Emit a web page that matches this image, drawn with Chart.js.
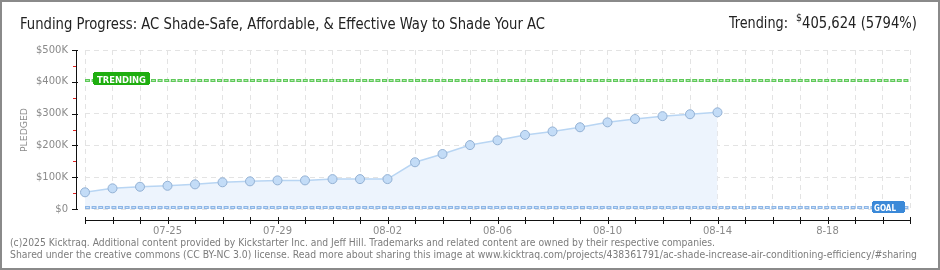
<!DOCTYPE html>
<html><head><meta charset="utf-8">
<script src="https://cdn.jsdelivr.net/npm/chart.js@4"></script>
<style>html,body{margin:0;padding:0;background:#fff}#wrap{width:940px;height:270px;position:relative}</style>
</head><body><div id="wrap"><canvas id="c" width="940" height="270"></canvas></div>
<script>
// ---- data ----
const categories = ['07-22','07-23','07-24','07-25','07-26','07-27','07-28','07-29','07-30','07-31',
  '08-01','08-02','08-03','08-04','08-05','08-06','08-07','08-08','08-09','08-10',
  '08-11','08-12','08-13','08-14','08-15','08-16','08-17','08-18','08-19','08-20','08-21'];
const pledged = [52500, 65000, 70000, 73000, 77500, 84000, 87000, 90000, 90000, 94000, 94000, 94000,
  147000, 173000, 201000, 216000, 233000, 244000, 257000, 272500, 283000, 292000, 298000, 304000];
const xTickAt   = ['07-25','07-29','08-02','08-06','08-10','08-14','08-18'];
const xTickText = ['07-25','07-29','08-02','08-06','08-10','08-14','8-18'];
const yTickValues = [0, 100000, 200000, 300000, 400000, 500000];
const yTickText = ['$0','$100K','$200K','$300K','$400K','$500K'];
const trendingValue = 405624;
const goalValue = 7000;
const titleText = 'Funding Progress: AC Shade-Safe, Affordable, & Effective Way to Shade Your AC';
const trendingLabel = 'Trending:';
const trendingAmount = '405,624 (5794%)';
const footer1 = '(c)2025 Kicktraq. Additional content provided by Kickstarter Inc. and Jeff Hill. Trademarks and related content are owned by their respective companies.';
const footer2 = 'Shared under the creative commons (CC BY-NC 3.0) license. Read more about sharing this image at www.kicktraq.com/projects/438361791/ac-shade-increase-air-conditioning-efficiency/#sharing';

function fitText(ctx, text, x, y, targetW, font, color, align) {
  ctx.save();
  ctx.font = font;
  ctx.fillStyle = color;
  ctx.textBaseline = 'alphabetic';
  ctx.textAlign = 'left';
  const w = ctx.measureText(text).width;
  const s = targetW / w;
  ctx.translate(align === 'center' ? x - targetW / 2 : x, y);
  ctx.scale(s, 1);
  ctx.fillText(text, 0, 0);
  ctx.restore();
}

function refLine(ctx, area, y, outer, inner) {
  ctx.save();
  ctx.beginPath();
  ctx.moveTo(area.left, y); ctx.lineTo(area.right, y);
  ctx.lineWidth = 3; ctx.strokeStyle = outer; ctx.setLineDash([5, 1.6]);
  ctx.stroke();
  ctx.beginPath();
  ctx.moveTo(area.left, y); ctx.lineTo(area.right, y);
  ctx.lineWidth = 1; ctx.strokeStyle = inner; ctx.setLineDash([2.6, 4]); ctx.lineDashOffset = -1.2;
  ctx.stroke();
  ctx.restore();
}

function box(ctx, x, y, w, h, color) {
  ctx.fillStyle = color;
  ctx.fillRect(x + 1, y, w - 2, h);
  ctx.fillRect(x, y + 1, w, h - 2);
}

const deco = {
  id: 'deco',
  afterDatasetsDraw(chart) {
    const ctx = chart.ctx, a = chart.chartArea, ys = chart.scales.y;
    const yt = Math.round(ys.getPixelForValue(trendingValue)) + 0.5;
    const yg = Math.round(ys.getPixelForValue(goalValue)) + 0.5;
    refLine(ctx, a, yt, '#5fc95a', '#b4eab0');
    refLine(ctx, a, yg, '#8db6e6', '#cde0f7');
    // labels
    box(ctx, 93, yt - 8.5, 57, 13, '#1fae10');
    fitText(ctx, 'TRENDING', 121.5, yt + 2, 49, 'bold 9px "DejaVu Sans"', '#ffffff', 'center');
    box(ctx, 872, yg - 6.5, 33, 12, '#3b89d8');
    fitText(ctx, 'GOAL', 885, yg + 3, 22, 'bold 9px "DejaVu Sans"', '#ffffff', 'center');
  },
  afterDraw(chart) {
    const ctx = chart.ctx, xs = chart.scales.x, ys = chart.scales.y;
    ctx.save();
    // y axis
    const yTop = ys.getPixelForValue(ys.max), yBot = ys.getPixelForValue(ys.min);
    ctx.strokeStyle = '#111'; ctx.lineWidth = 1;
    ctx.beginPath(); ctx.moveTo(76.5, yTop); ctx.lineTo(76.5, yBot + 1); ctx.stroke();
    ys.ticks.forEach((t, i) => {
      const p = Math.round(ys.getPixelForValue(t.value)) + 0.5;
      ctx.strokeStyle = '#111';
      ctx.beginPath(); ctx.moveTo(72, p); ctx.lineTo(78, p); ctx.stroke();
      if (i < ys.ticks.length - 1) {
        const m = Math.round(ys.getPixelForValue((t.value + ys.ticks[i + 1].value) / 2)) + 0.5;
        ctx.strokeStyle = '#e02020';
        ctx.beginPath(); ctx.moveTo(73, m); ctx.lineTo(76, m); ctx.stroke();
      }
    });
    // x axis
    const xl = xs.getPixelForValue(0), xr = xs.getPixelForValue(categories.length - 1);
    ctx.strokeStyle = '#111';
    ctx.beginPath(); ctx.moveTo(xl, 220.5); ctx.lineTo(xr + 1, 220.5); ctx.stroke();
    categories.forEach((c, i) => {
      const p = Math.round(xs.getPixelForValue(i)) + 0.5;
      ctx.beginPath(); ctx.moveTo(p, 217); ctx.lineTo(p, 224); ctx.stroke();
    });
    ctx.restore();
    // y title
    ctx.save();
    ctx.translate(27, 130);
    ctx.rotate(-Math.PI / 2);
    fitText(ctx, 'PLEDGED', 0, 0, 44, '9px "DejaVu Sans"', '#8a8a8a', 'center');
    ctx.restore();
    // title & trending
    fitText(ctx, titleText, 20, 29, 525, '16px "Liberation Sans Narrow", "DejaVu Sans Condensed", "Roboto", sans-serif', '#222', 'left');
    fitText(ctx, trendingLabel, 729, 28, 59, '16px "Liberation Sans Narrow", "DejaVu Sans Condensed", "Roboto", sans-serif', '#222', 'left');
    fitText(ctx, '$', 796, 21, 6, '10px "Liberation Sans Narrow", "DejaVu Sans Condensed", sans-serif', '#222', 'left');
    fitText(ctx, trendingAmount, 802, 28, 115, '16px "Liberation Sans Narrow", "DejaVu Sans Condensed", "Roboto", sans-serif', '#222', 'left');
    // footer
    fitText(ctx, footer1, 10, 246, 705, '10px "DejaVu Sans"', '#7c7c7c', 'left');
    fitText(ctx, footer2, 10, 258, 907, '10px "DejaVu Sans"', '#7c7c7c', 'left');
    // frame
    ctx.save();
    ctx.strokeStyle = '#8a8a8a'; ctx.lineWidth = 2;
    ctx.strokeRect(1, 1, 938, 268);
    ctx.restore();
  }
};

new Chart(document.getElementById('c'), {
  type: 'line',
  data: {
    labels: categories,
    datasets: [{
      data: pledged,
      borderColor: '#b8d5f3',
      borderWidth: 1.5,
      backgroundColor: '#edf4fd',
      fill: 'origin',
      tension: 0,
      pointRadius: 4.5,
      pointBackgroundColor: '#c3dcf7',
      pointBorderColor: '#93b1d4',
      pointBorderWidth: 1
    }]
  },
  options: {
    responsive: false,
    animation: false,
    events: [],
    layout: { padding: { top: 50, right: 30, left: 0, bottom: 0 } },
    plugins: { legend: { display: false }, tooltip: { enabled: false } },
    scales: {
      x: {
        offset: false,
        grid: { color: '#e3e3e3', drawTicks: false },
        border: { display: false, dash: [5, 4] },
        ticks: {
          autoSkip: false, maxRotation: 0, padding: 16,
          color: '#8a8a8a', font: { family: 'DejaVu Sans', size: 10 },
          callback: (v, i) => { const k = xTickAt.indexOf(categories[i]); return k >= 0 ? xTickText[k] : ''; }
        },
        afterFit: s => { s.height = 61; }
      },
      y: {
        min: 0, max: 500000,
        grid: { color: '#e3e3e3', drawTicks: false },
        border: { display: false, dash: [5, 4] },
        ticks: {
          stepSize: 100000, padding: 17,
          color: '#8a8a8a', font: { family: 'DejaVu Sans', size: 10 },
          callback: v => { const k = yTickValues.indexOf(v); return k >= 0 ? yTickText[k] : ''; }
        },
        afterFit: s => { s.width = 85; }
      }
    }
  },
  plugins: [deco]
});
</script>
</body></html>
